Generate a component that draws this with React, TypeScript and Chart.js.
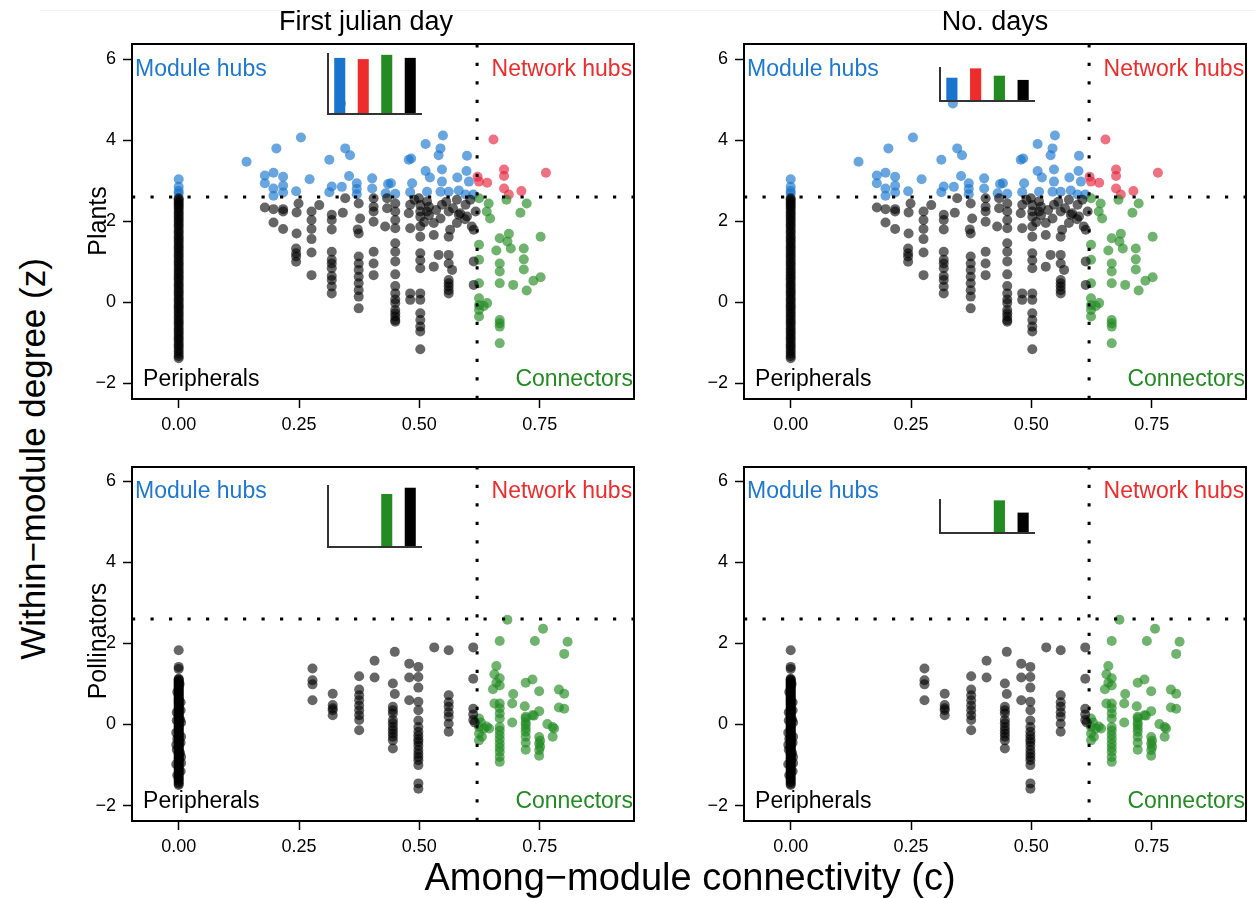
import React, { useEffect, useRef } from "react";
import { Chart, registerables } from "chart.js";

Chart.register(...registerables);

const FONT = "'Liberation Sans', Arial, Helvetica, sans-serif";

// ---------- axes ----------
const xTickValues = [0, 0.25, 0.5, 0.75];
const xTickLabels = ["0.00", "0.25", "0.50", "0.75"];
const yTickValues = [-2, 0, 2, 4, 6];
const yTickLabels = ["\u22122", "0", "2", "4", "6"];

const zThreshold = 2.6;
const cThreshold = 0.62;

const panelTitles = ["First julian day", "No. days"];
const rowTitles = ["Plants", "Pollinators"];
const xAxisTitle = "Among\u2212module connectivity (c)";
const yAxisTitle = "Within\u2212module degree (z)";

const roleNames = ["Module hubs", "Network hubs", "Connectors", "Peripherals"];
const roleTextColors = ["#1E78D2", "#EE2C2C", "#228B22", "#000000"];
const rolePointColors = [
  "rgba(24,116,205,0.65)",
  "rgba(230,35,60,0.65)",
  "rgba(34,139,34,0.65)",
  "rgba(0,0,0,0.6)",
];
const barColors = ["#1874CD", "#EE2C2C", "#228B22", "#000000"];

// ---------- inset bar values (share per role) ----------
const insetPlantsFirstDay = [0.92, 0.9, 0.97, 0.92];
const insetPlantsDays = [0.685, 0.96, 0.744, 0.62];
const insetPollFirstDay = [0, 0, 0.855, 0.956];
const insetPollDays = [0, 0, 0.96, 0.6];

type Pt = [number, number];

// ---------- plants (c, z) ----------
const plantsPeripheralColumnZ = [
  2.57, 2.53, 2.49, 2.44, 2.4, 2.35, 2.31, 2.25, 2.2, 2.14, 2.09, 2.03, 1.98, 1.92,
  1.87, 1.81, 1.75, 1.7, 1.63, 1.58, 1.52, 1.47, 1.41, 1.35, 1.3, 1.24, 1.18, 1.13,
  1.07, 1.01, 0.95, 0.9, 0.84, 0.78, 0.73, 0.67, 0.61, 0.56, 0.5, 0.44, 0.39, 0.33,
  0.27, 0.22, 0.16, 0.1, 0.05, -0.01, -0.07, -0.12, -0.18, -0.24, -0.29, -0.35,
  -0.41, -0.47, -0.52, -0.58, -0.64, -0.7, -0.75, -0.81, -0.87, -0.92, -0.98,
  -1.04, -1.09, -1.15, -1.21, -1.27, -1.33, -1.38,
];
const plantsPeripherals: Pt[] = [
  [0.179, 2.34], [0.197, 2.3], [0.217, 2.24], [0.217, 2.3], [0.197, 1.97], [0.217, 1.81],
  [0.249, 2.44], [0.245, 2.22], [0.245, 1.7], [0.244, 1.33], [0.244, 1.21], [0.244, 1.13],
  [0.244, 1.0], [0.276, 2.24], [0.276, 2.03], [0.276, 1.81], [0.276, 1.56], [0.276, 1.23],
  [0.276, 0.67], [0.292, 2.4], [0.318, 2.16], [0.318, 2.03], [0.318, 1.8], [0.318, 1.25],
  [0.318, 1.05], [0.318, 0.96], [0.318, 0.84], [0.318, 0.65], [0.318, 0.55], [0.318, 0.39],
  [0.318, 0.22], [0.341, 2.21], [0.346, 2.57], [0.374, 2.44], [0.377, 2.07], [0.372, 1.8],
  [0.374, 1.7], [0.374, 1.13], [0.374, 0.96], [0.374, 0.8], [0.374, 0.63], [0.374, 0.47],
  [0.374, 0.3], [0.374, 0.14], [0.374, -0.15], [0.405, 2.57], [0.405, 2.36], [0.405, 2.24],
  [0.405, 1.99], [0.405, 1.25], [0.405, 0.96], [0.405, 0.67], [0.433, 2.57], [0.433, 2.32],
  [0.429, 1.87], [0.45, 2.44], [0.45, 2.24], [0.45, 2.03], [0.45, 1.83], [0.45, 1.46],
  [0.45, 1.25], [0.45, 1.01], [0.45, 0.69], [0.45, 0.4], [0.45, 0.22], [0.45, 0.07],
  [0.45, -0.02], [0.45, -0.19], [0.45, -0.27], [0.45, -0.35], [0.45, -0.44], [0.45, -0.48],
  [0.481, 2.41], [0.478, 2.2], [0.481, 1.83], [0.481, 0.22], [0.481, 0.06], [0.499, 2.57],
  [0.502, 2.4], [0.502, 2.24], [0.502, 2.11], [0.502, 1.87], [0.502, 1.62], [0.502, 1.21],
  [0.502, 1.04], [0.502, 0.84], [0.502, 0.22], [0.502, 0.06], [0.502, -0.27], [0.502, -0.44],
  [0.502, -0.6], [0.502, -0.72], [0.502, -1.16], [0.516, 2.49], [0.516, 2.24], [0.53, 1.96],
  [0.53, 1.66], [0.53, 0.88], [0.54, 1.17], [0.544, 2.07], [0.547, 2.41], [0.556, 2.48],
  [0.561, 2.24], [0.564, 1.79], [0.561, 1.62], [0.561, 1.17], [0.561, 0.96], [0.568, 0.8],
  [0.561, 0.55], [0.561, 0.47], [0.561, 0.3], [0.561, 0.39], [0.561, 0.22], [0.57, 2.32],
  [0.578, 1.96], [0.578, 2.53], [0.582, 2.16], [0.585, 2.2], [0.596, 2.41], [0.599, 2.12],
  [0.595, 2.05], [0.609, 1.87], [0.613, 1.79], [0.606, 2.53], [0.617, 2.24], [0.613, 1.01],
  [0.613, 0.43], [0.52, 2.36], [0.535, 2.28], [0.52, 2.15], [0.51, 1.98], [0.49, 2.53],
];
const plantsModuleHubs: Pt[] = [
  [0, 3.04], [0, 2.85], [0, 2.75], [0, 2.68], [0.141, 3.47], [0.179, 3.13], [0.179, 2.94],
  [0.197, 3.2], [0.217, 3.1], [0.203, 3.8], [0.217, 2.88], [0.197, 2.63], [0.217, 2.71],
  [0.197, 2.81], [0.254, 4.07], [0.244, 2.74], [0.272, 3.04], [0.313, 3.52], [0.346, 3.8],
  [0.356, 3.63], [0.354, 3.12], [0.318, 2.86], [0.339, 2.85], [0.313, 2.72], [0.37, 2.94],
  [0.37, 2.8], [0.37, 2.67], [0.402, 3.06], [0.402, 2.81], [0.435, 2.92], [0.43, 2.69],
  [0.45, 2.68], [0.478, 3.52], [0.483, 3.55], [0.513, 3.91], [0.549, 4.12], [0.544, 3.8],
  [0.54, 3.63], [0.485, 2.94], [0.481, 2.72], [0.513, 3.24], [0.522, 3.08], [0.547, 3.28],
  [0.547, 2.98], [0.516, 2.73], [0.544, 2.73], [0.561, 2.73], [0.579, 3.08], [0.599, 3.62],
  [0.598, 3.24], [0.603, 2.98], [0.582, 2.76], [0.596, 2.66], [0.612, 2.66], [0.441, 2.94],
  [0.337, 4.91],
];
const plantsNetworkHubs: Pt[] = [
  [0.654, 4.02], [0.621, 3.1], [0.624, 2.98], [0.641, 2.95], [0.676, 3.28], [0.676, 3.12],
  [0.676, 2.81], [0.686, 2.66], [0.712, 2.75], [0.763, 3.2],
];
const plantsConnectors: Pt[] = [
  [0.624, 2.57], [0.644, 2.44], [0.681, 2.53], [0.723, 2.44], [0.71, 2.21], [0.64, 2.24],
  [0.647, 2.07], [0.624, 1.42], [0.667, 1.58], [0.686, 1.69], [0.683, 1.5], [0.69, 1.33],
  [0.66, 1.28], [0.717, 1.33], [0.752, 1.62], [0.624, 1.05], [0.667, 0.96], [0.717, 1.06],
  [0.667, 0.76], [0.717, 0.81], [0.624, 0.47], [0.667, 0.47], [0.695, 0.43], [0.723, 0.29],
  [0.737, 0.53], [0.752, 0.62], [0.624, 0.1], [0.641, -0.02], [0.634, -0.09], [0.624, -0.19],
  [0.624, -0.35], [0.624, -0.07], [0.667, -0.44], [0.667, -0.6], [0.667, -1.01], [0.667, -0.52],
];

// ---------- pollinators (c, z) ----------
const pollPeripheralColumn: Pt[] = [
  [0, 1.83], [0, 1.42], [0, 1.37], [0, 1.13], [0, 1.11], [0, 1.09], [0, 1.06], [0, 1.04],
  [0, 1.01], [0, 0.99], [0, 0.96], [0, 0.94], [0, 0.91], [0, 0.88], [0, 0.86], [0, 0.83],
  [0, 0.8], [0, 0.78], [0, 0.75], [0, 0.72], [0, 0.7], [0, 0.67], [0, 0.64], [0, 0.62],
  [0, 0.59], [0, 0.57], [0, 0.54], [0, 0.51], [0, 0.49], [0, 0.46], [0, 0.43], [0, 0.41],
  [0, 0.38], [0, 0.35], [0, 0.33], [0, 0.3], [0, 0.27], [0, 0.25], [0, 0.22], [0, 0.2],
  [0, 0.17], [0, 0.14], [0, 0.12], [0, 0.09], [0, 0.06], [0, 0.04], [0, 0.01], [0, -0.02],
  [0, -0.04], [0, -0.07], [0, -0.1], [0, -0.12], [0, -0.15], [0, -0.17], [0, -0.2],
  [0, -0.23], [0, -0.25], [0, -0.28], [0, -0.31], [0, -0.33], [0, -0.36], [0, -0.38],
  [0, -0.41], [0, -0.44], [0, -0.46], [0, -0.49], [0, -0.52], [0, -0.54], [0, -0.57],
  [0, -0.59], [0, -0.62], [0, -0.65], [0, -0.67], [0, -0.7], [0, -0.73], [0, -0.75],
  [0, -0.78], [0, -0.81], [0, -0.84], [0, -0.86], [0, -0.89], [0, -0.92], [0, -0.95],
  [0, -0.98], [0, -1.01], [0, -1.04], [0, -1.07], [0, -1.1], [0, -1.14], [0, -1.17],
  [0, -1.21], [0, -1.24], [0, -1.28], [0, -1.31], [0, -1.35], [0, -1.38], [0, -1.42],
  [0, -1.46], [0, -1.49],
  [0.004, 0.55], [-0.004, 0.3], [0.005, 0.05], [-0.005, -0.2], [0.004, -0.45],
  [-0.004, -0.62], [0.005, -0.8], [-0.005, -0.98], [0.004, -1.15], [-0.003, 0.8],
  [0.003, 0.12], [-0.003, -0.35], [0.003, -0.7], [-0.003, -1.25], [0.002, 1.0],
  [0.005, -0.3], [-0.005, -0.5], [0.005, -0.95], [-0.004, 0.1], [0.004, 0.35],
];
const pollPeripherals: Pt[] = [
  [0.278, 1.38], [0.278, 1.09], [0.278, 0.99], [0.278, 0.6], [0.32, 0.76], [0.32, 0.48],
  [0.32, 0.35], [0.32, 0.23], [0.32, 0.4], [0.375, 1.19], [0.375, 0.86], [0.375, 0.72],
  [0.375, 0.6], [0.375, 0.47], [0.375, 0.35], [0.375, 0.23], [0.375, 0.11], [0.375, -0.14],
  [0.407, 1.57], [0.407, 1.16], [0.449, 1.79], [0.445, 1.01], [0.449, 0.75], [0.445, 0.44],
  [0.445, 0.35], [0.445, 0.27], [0.445, 0.11], [0.445, 0.03], [0.445, -0.06], [0.445, -0.14],
  [0.445, -0.22], [0.445, -0.3], [0.445, -0.39], [0.445, -0.59], [0.479, 1.5], [0.479, 1.16],
  [0.479, 0.6], [0.498, 1.42], [0.498, 1.17], [0.498, 0.91], [0.498, 0.56], [0.498, 0.35],
  [0.498, 0.1], [0.498, -0.06], [0.498, -0.18], [0.498, -0.27], [0.498, -0.36], [0.498, -0.43],
  [0.498, -0.52], [0.498, -0.63], [0.498, -0.72], [0.498, -0.8], [0.498, -0.88], [0.498, -1.0],
  [0.498, -1.45], [0.498, -1.58], [0.531, 1.9], [0.561, 1.83], [0.561, 0.72], [0.561, 0.55],
  [0.561, 0.44], [0.561, 0.3], [0.561, 0.19], [0.561, 0.02], [0.561, -0.18], [0.612, 1.9],
  [0.612, 1.13], [0.612, 0.39], [0.612, 0.25], [0.612, 0.11], [0.615, 0.05],
];
const pollConnectors: Pt[] = [
  [0.683, 2.58], [0.757, 2.36], [0.667, 2.06], [0.74, 2.06], [0.808, 2.04], [0.801, 1.74],
  [0.66, 1.44], [0.656, 1.24], [0.667, 1.14], [0.66, 1.03], [0.667, 0.96], [0.653, 0.87],
  [0.695, 0.75], [0.721, 1.03], [0.735, 1.11], [0.749, 0.82], [0.79, 0.86], [0.801, 0.76],
  [0.656, 0.52], [0.667, 0.52], [0.667, 0.4], [0.667, 0.27], [0.667, 0.15], [0.693, 0.52],
  [0.719, 0.45], [0.738, 0.22], [0.749, 0.33], [0.79, 0.42], [0.801, 0.39], [0.624, 0.15],
  [0.624, -0.06], [0.624, -0.22], [0.634, -0.1], [0.645, -0.1], [0.624, -0.39], [0.628, 0.05],
  [0.63, -0.3], [0.64, -0.05], [0.667, -0.06], [0.667, -0.26], [0.667, -0.47], [0.667, -0.67],
  [0.667, -0.8], [0.667, -0.92], [0.667, -0.15], [0.667, -0.36], [0.667, -0.57], [0.693, 0.05],
  [0.721, 0.15], [0.721, -0.01], [0.721, -0.18], [0.721, -0.62], [0.721, 0.05], [0.721, -0.1],
  [0.721, -0.3], [0.721, -0.45], [0.766, 0.01], [0.777, -0.06], [0.777, -0.3], [0.78, -0.1],
  [0.749, -0.31], [0.749, -0.47], [0.749, -0.63], [0.749, -0.77], [0.751, -0.4], [0.751, -0.55],
  [0.735, 0.23], [0.721, 0.19],
];
const pollModuleHubs: Pt[] = [];
const pollNetworkHubs: Pt[] = [];

const toXY = (arr: Pt[]) => arr.map(([c, z]) => ({ x: c, y: z }));

const plantsGroups = {
  hubs: plantsModuleHubs,
  net: plantsNetworkHubs,
  conn: plantsConnectors,
  peri: [...plantsPeripheralColumnZ.map((z) => [0, z] as Pt), ...plantsPeripherals],
};
const pollGroups = {
  hubs: pollModuleHubs,
  net: pollNetworkHubs,
  conn: pollConnectors,
  peri: [...pollPeripheralColumn, ...pollPeripherals],
};

const X_MIN = -0.097;
const X_MAX = 0.946;

const quadrantPlugin = {
  id: "quadrants",
  afterDatasetsDraw(chart: any) {
    const { ctx, chartArea: a, scales } = chart;
    const x = scales.x;
    const y = scales.y;
    ctx.save();
    ctx.beginPath();
    ctx.rect(a.left, a.top, a.right - a.left, a.bottom - a.top);
    ctx.clip();
    ctx.strokeStyle = "#000";
    ctx.lineWidth = 3;
    ctx.lineCap = "butt";
    ctx.setLineDash([3.2, 15.3]);
    const yz = y.getPixelForValue(zThreshold);
    ctx.beginPath();
    ctx.moveTo(a.left, yz);
    ctx.lineTo(a.right, yz);
    ctx.stroke();
    const xc = x.getPixelForValue(cThreshold);
    ctx.beginPath();
    ctx.moveTo(xc, a.bottom);
    ctx.lineTo(xc, a.top);
    ctx.stroke();
    ctx.setLineDash([]);

    ctx.font = `23px ${FONT}`;
    ctx.textBaseline = "alphabetic";
    const topY = y.getPixelForValue(5.58);
    const botY = y.getPixelForValue(-2.06);
    ctx.textAlign = "left";
    ctx.fillStyle = roleTextColors[0];
    ctx.fillText(roleNames[0], a.left + 3, topY);
    ctx.fillStyle = roleTextColors[1];
    ctx.fillText(roleNames[1], x.getPixelForValue(0.65), topY);
    ctx.fillStyle = roleTextColors[3];
    ctx.fillText(roleNames[3], x.getPixelForValue(-0.074), botY);
    ctx.textAlign = "right";
    ctx.fillStyle = roleTextColors[2];
    ctx.fillText(roleNames[2], a.right - 1, botY);
    ctx.restore();

    ctx.save();
    ctx.strokeStyle = "#000";
    ctx.lineWidth = 2;
    ctx.strokeRect(a.left, a.top, a.right - a.left, a.bottom - a.top);
    ctx.restore();
  },
};

function ScatterPanel(props: {
  left: number; top: number; w: number; h: number; padR: number;
  groups: { hubs: Pt[]; net: Pt[]; conn: Pt[]; peri: Pt[] };
  yMin: number; yMax: number;
}) {
  const ref = useRef<HTMLCanvasElement>(null);
  useEffect(() => {
    const g = props.groups;
    const ds = (label: string, pts: Pt[], color: string) => ({
      label,
      data: toXY(pts),
      backgroundColor: color,
      borderWidth: 0,
      pointRadius: 5,
      pointHoverRadius: 5,
    });
    const chart = new Chart(ref.current as HTMLCanvasElement, {
      type: "scatter",
      data: {
        datasets: [
          ds(roleNames[3], g.peri, rolePointColors[3]),
          ds(roleNames[2], g.conn, rolePointColors[2]),
          ds(roleNames[0], g.hubs, rolePointColors[0]),
          ds(roleNames[1], g.net, rolePointColors[1]),
        ],
      },
      options: {
        animation: false,
        responsive: false,
        maintainAspectRatio: false,
        devicePixelRatio: 1,
        events: [],
        layout: { padding: { top: 10, right: props.padR, left: 0, bottom: 0 } },
        plugins: { legend: { display: false }, tooltip: { enabled: false } },
        scales: {
          x: {
            type: "linear",
            min: X_MIN,
            max: X_MAX,
            afterBuildTicks: (s: any) => { s.ticks = xTickValues.map((v) => ({ value: v })); },
            afterFit: (s: any) => {
              s.height = 45;
              s.paddingLeft = 0; s.paddingRight = 0; s.paddingTop = 0; s.paddingBottom = 0;
            },
            grid: { display: true, drawOnChartArea: false, drawTicks: true, tickLength: 9, tickWidth: 1.5, tickColor: "#000" },
            border: { display: false },
            ticks: {
              autoSkip: false, maxRotation: 0, minRotation: 0, padding: 6, color: "#000",
              font: { family: FONT, size: 18 },
              callback: (v: any) => xTickLabels[xTickValues.indexOf(Number(v))],
            },
          },
          y: {
            type: "linear",
            min: props.yMin,
            max: props.yMax,
            afterBuildTicks: (s: any) => { s.ticks = yTickValues.map((v) => ({ value: v })); },
            afterFit: (s: any) => {
              s.width = 60;
              s.paddingLeft = 0; s.paddingRight = 0; s.paddingTop = 0; s.paddingBottom = 0;
            },
            grid: { display: true, drawOnChartArea: false, drawTicks: true, tickLength: 9, tickWidth: 1.5, tickColor: "#000" },
            border: { display: false },
            ticks: {
              autoSkip: false, padding: 7, color: "#000",
              font: { family: FONT, size: 18 },
              callback: (v: any) => yTickLabels[yTickValues.indexOf(Number(v))],
            },
          },
        },
      } as any,
      plugins: [quadrantPlugin],
    });
    return () => chart.destroy();
  }, []);
  return (
    <canvas
      ref={ref}
      width={props.w}
      height={props.h}
      style={{ position: "absolute", left: props.left, top: props.top, width: props.w, height: props.h }}
    />
  );
}

const insetAxesPlugin = {
  id: "insetAxes",
  afterDraw(chart: any) {
    const { ctx, chartArea: a } = chart;
    ctx.save();
    ctx.strokeStyle = "#333";
    ctx.lineWidth = 2;
    ctx.beginPath();
    ctx.moveTo(a.left, a.top);
    ctx.lineTo(a.left, a.bottom);
    ctx.lineTo(a.right, a.bottom);
    ctx.stroke();
    ctx.restore();
  },
};

function InsetBars(props: { left: number; top: number; w: number; h: number; values: number[] }) {
  const ref = useRef<HTMLCanvasElement>(null);
  useEffect(() => {
    const chart = new Chart(ref.current as HTMLCanvasElement, {
      type: "bar",
      data: {
        labels: roleNames,
        datasets: [
          {
            data: props.values,
            backgroundColor: barColors,
            borderWidth: 0,
            barPercentage: 0.47,
            categoryPercentage: 1,
          },
        ],
      },
      options: {
        animation: false,
        responsive: false,
        maintainAspectRatio: false,
        devicePixelRatio: 1,
        events: [],
        layout: { padding: { top: 1, right: 1, left: 1, bottom: 2 } },
        plugins: { legend: { display: false }, tooltip: { enabled: false } },
        scales: {
          x: { display: false, offset: true },
          y: { display: false, min: 0, max: 1 },
        },
      } as any,
      plugins: [insetAxesPlugin],
    });
    return () => chart.destroy();
  }, []);
  return (
    <canvas
      ref={ref}
      width={props.w}
      height={props.h}
      style={{ position: "absolute", left: props.left, top: props.top, width: props.w, height: props.h }}
    />
  );
}

function Label(props: { text: string; cx: number; cy: number; size: number; rotate?: boolean }) {
  return (
    <div
      style={{
        position: "absolute",
        left: props.cx,
        top: props.cy,
        transform: `translate(-50%, -50%)${props.rotate ? " rotate(-90deg)" : ""}`,
        fontFamily: FONT,
        fontSize: props.size,
        lineHeight: `${props.size}px`,
        whiteSpace: "nowrap",
        color: "#000",
      }}
    >
      {props.text}
    </div>
  );
}

export default function App() {
  return (
    <div
      style={{
        position: "fixed",
        left: 0,
        top: 0,
        width: 1255,
        height: 898,
        background: "#fff",
        overflow: "hidden",
      }}
    >
      <div style={{ position: "absolute", left: 40, top: 10, width: 1215, height: 0, borderTop: "1px solid #f2f2f2" }} />
      <ScatterPanel left={72} top={34} w={572} h={410} padR={10} groups={plantsGroups} yMin={-2.388} yMax={6.378} />
      <ScatterPanel left={684} top={34} w={570} h={410} padR={8} groups={plantsGroups} yMin={-2.388} yMax={6.378} />
      <ScatterPanel left={72} top={457} w={572} h={409} padR={10} groups={pollGroups} yMin={-2.377} yMax={6.345} />
      <ScatterPanel left={684} top={457} w={570} h={409} padR={8} groups={pollGroups} yMin={-2.377} yMax={6.345} />

      <InsetBars left={327} top={52} w={96} h={64} values={insetPlantsFirstDay} />
      <InsetBars left={939} top={66} w={97} h={37} values={insetPlantsDays} />
      <InsetBars left={327} top={484} w={96} h={65} values={insetPollFirstDay} />
      <InsetBars left={939} top={498} w={97} h={37} values={insetPollDays} />

      <Label text={panelTitles[0]} cx={366} cy={21} size={27} />
      <Label text={panelTitles[1]} cx={995} cy={21} size={27} />
      <Label text={rowTitles[0]} cx={97} cy={221} size={25} rotate />
      <Label text={rowTitles[1]} cx={97} cy={641} size={25} rotate />
      <Label text={yAxisTitle} cx={32} cy={459} size={35} rotate />
      <Label text={xAxisTitle} cx={690} cy={877} size={38} />
    </div>
  );
}
